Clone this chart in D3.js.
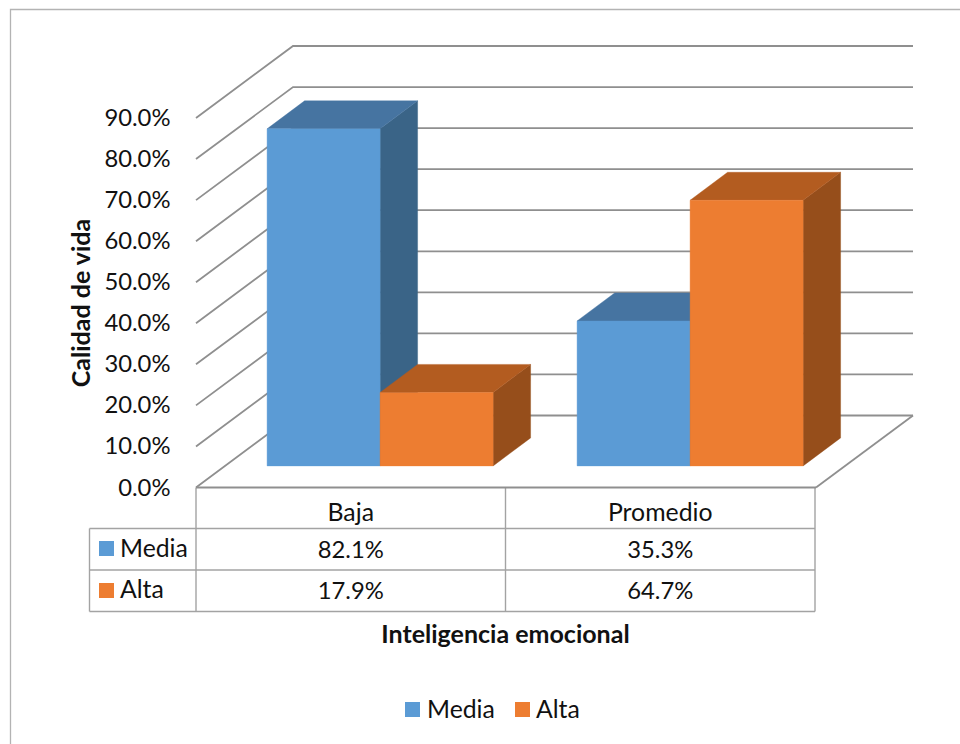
<!DOCTYPE html>
<html><head><meta charset="utf-8">
<script src="https://cdnjs.cloudflare.com/ajax/libs/d3/7.8.5/d3.min.js"></script>
<style>html,body{margin:0;padding:0;background:#fff}svg{display:block}text{font-family:Lato,"Open Sans",sans-serif;fill:#111}</style>
</head><body><svg id="c" width="960" height="744"></svg>
<script>
const categories = ["Baja", "Promedio"];
const seriesNames = ["Media", "Alta"];
const mediaValues = [82.1, 35.3];
const altaValues = [17.9, 64.7];
const tickValues = [0, 10, 20, 30, 40, 50, 60, 70, 80, 90];
const frontColors = ["#5b9bd5", "#ed7d31"];
const topColors = ["#4674a1", "#b35c20"];
const sideColors = ["#3a6487", "#964e1b"];
const valuesBySeries = [mediaValues, altaValues];

const svg = d3.select("#c");
const gridColor = "#8f8f8f", tableColor = "#a3a3a3";
const numFs = 23.8, wordFs = 24.8, titleFs = 25;

// chart frame
svg.append("path").attr("d","M10.5,744V9.5H960").attr("fill","none").attr("stroke","#b3b3b3").attr("stroke-width",1.3);

const y = d3.scaleLinear().domain([0,90]).range([487.5,118]);
const x = d3.scaleBand().domain(categories).range([196,816]);
const wallDx = 97, wallDy = -72;
const floorDepth = 0.3, barDx = 37.5, barDy = -28;
const baseY = 487.5 + wallDy*floorDepth;
const barBand = d3.scaleBand().domain(seriesNames).range([42,268]);

// walls + floor
const grid = svg.append("g").attr("fill","none").attr("stroke",gridColor);
tickValues.forEach(t=>{
  const y0=y(t);
  grid.append("path").attr("stroke-width",1.8)
    .attr("d",`M${x.range()[0]},${y0}L${x.range()[0]+wallDx},${y0+wallDy}H${x.range()[1]+wallDx}`);
});
grid.append("path").attr("stroke-width",1.8)
  .attr("d",`M${x.range()[1]},${y(0)}L${x.range()[1]+wallDx},${y(0)+wallDy}`);

// bars
const barsG = svg.append("g");
categories.forEach((c,ci)=>{
  seriesNames.forEach((s,si)=>{
    const v = valuesBySeries[si][ci];
    const x0 = x(c)+wallDx*floorDepth+barBand(s), x1 = x0+barBand.bandwidth();
    const h = y(0)-y(v), yb = baseY, yt = yb-h;
    const poly=(pts,col)=>barsG.append("polygon").attr("points",pts.map(p=>p.join(",")).join(" ")).attr("fill",col).attr("stroke",col).attr("stroke-width",0.4);
    poly([[x1,yb],[x1+barDx,yb+barDy],[x1+barDx,yt+barDy],[x1,yt]],sideColors[si]);
    poly([[x0,yt],[x1,yt],[x1+barDx,yt+barDy],[x0+barDx,yt+barDy]],topColors[si]);
    poly([[x0,yb],[x1,yb],[x1,yt],[x0,yt]],frontColors[si]);
  });
});

// y tick labels
svg.append("g").selectAll("text").data(tickValues).join("text")
  .attr("x",170.5).attr("y",d=>y(d)+8).attr("text-anchor","end").attr("font-size",numFs)
  .text(d=>d.toFixed(1)+"%");

// data table
const rowYs=[487.5,528.5,570,611.5], tableLeft=89.5;
const xs=[x.range()[0],x(categories[1])-0.5,x.range()[1]-1];
const tbl=svg.append("g").attr("stroke",tableColor).attr("stroke-width",1.4);
rowYs.forEach((ry,i)=>{ if(i>0) tbl.append("line").attr("x1",tableLeft).attr("x2",xs[2]).attr("y1",ry).attr("y2",ry); });
xs.forEach(vx=>tbl.append("line").attr("x1",vx).attr("x2",vx).attr("y1",rowYs[0]).attr("y2",rowYs[3]));
tbl.append("line").attr("x1",tableLeft).attr("x2",tableLeft).attr("y1",rowYs[1]).attr("y2",rowYs[3]);
svg.append("line").attr("x1",xs[0]).attr("x2",x.range()[1]).attr("y1",rowYs[0]).attr("y2",rowYs[0]).attr("stroke",gridColor).attr("stroke-width",2);

const cx=i=>(xs[i]+xs[i+1])/2;
categories.forEach((c,i)=>{
  svg.append("text").attr("x",cx(i)).attr("y",520.5).attr("text-anchor","middle").attr("font-size",wordFs).text(c);
  seriesNames.forEach((s,si)=>{
    svg.append("text").attr("x",cx(i)).attr("y",557.5+si*41.5).attr("text-anchor","middle").attr("font-size",numFs)
      .text(valuesBySeries[si][i].toFixed(1)+"%");
  });
});
seriesNames.forEach((s,si)=>{
  svg.append("rect").attr("x",99).attr("y",541+si*42).attr("width",15).attr("height",15).attr("fill",frontColors[si]);
  svg.append("text").attr("x",120).attr("y",556.5+si*41.5).attr("font-size",wordFs).text(s);
});

// axis titles
svg.append("text").attr("transform","translate(90,303) rotate(-90)").attr("text-anchor","middle")
  .attr("font-size",titleFs).attr("font-weight",700).text("Calidad de vida");
svg.append("text").attr("x",505.5).attr("y",643).attr("text-anchor","middle")
  .attr("font-size",titleFs).attr("font-weight",700).text("Inteligencia emocional");

// bottom legend
const legendKeys=[405,515], legendText=[427,536];
seriesNames.forEach((s,si)=>{
  svg.append("rect").attr("x",legendKeys[si]).attr("y",702).attr("width",15).attr("height",15).attr("fill",frontColors[si]);
  svg.append("text").attr("x",legendText[si]).attr("y",717.5).attr("font-size",wordFs).text(s);
});
</script></body></html>
